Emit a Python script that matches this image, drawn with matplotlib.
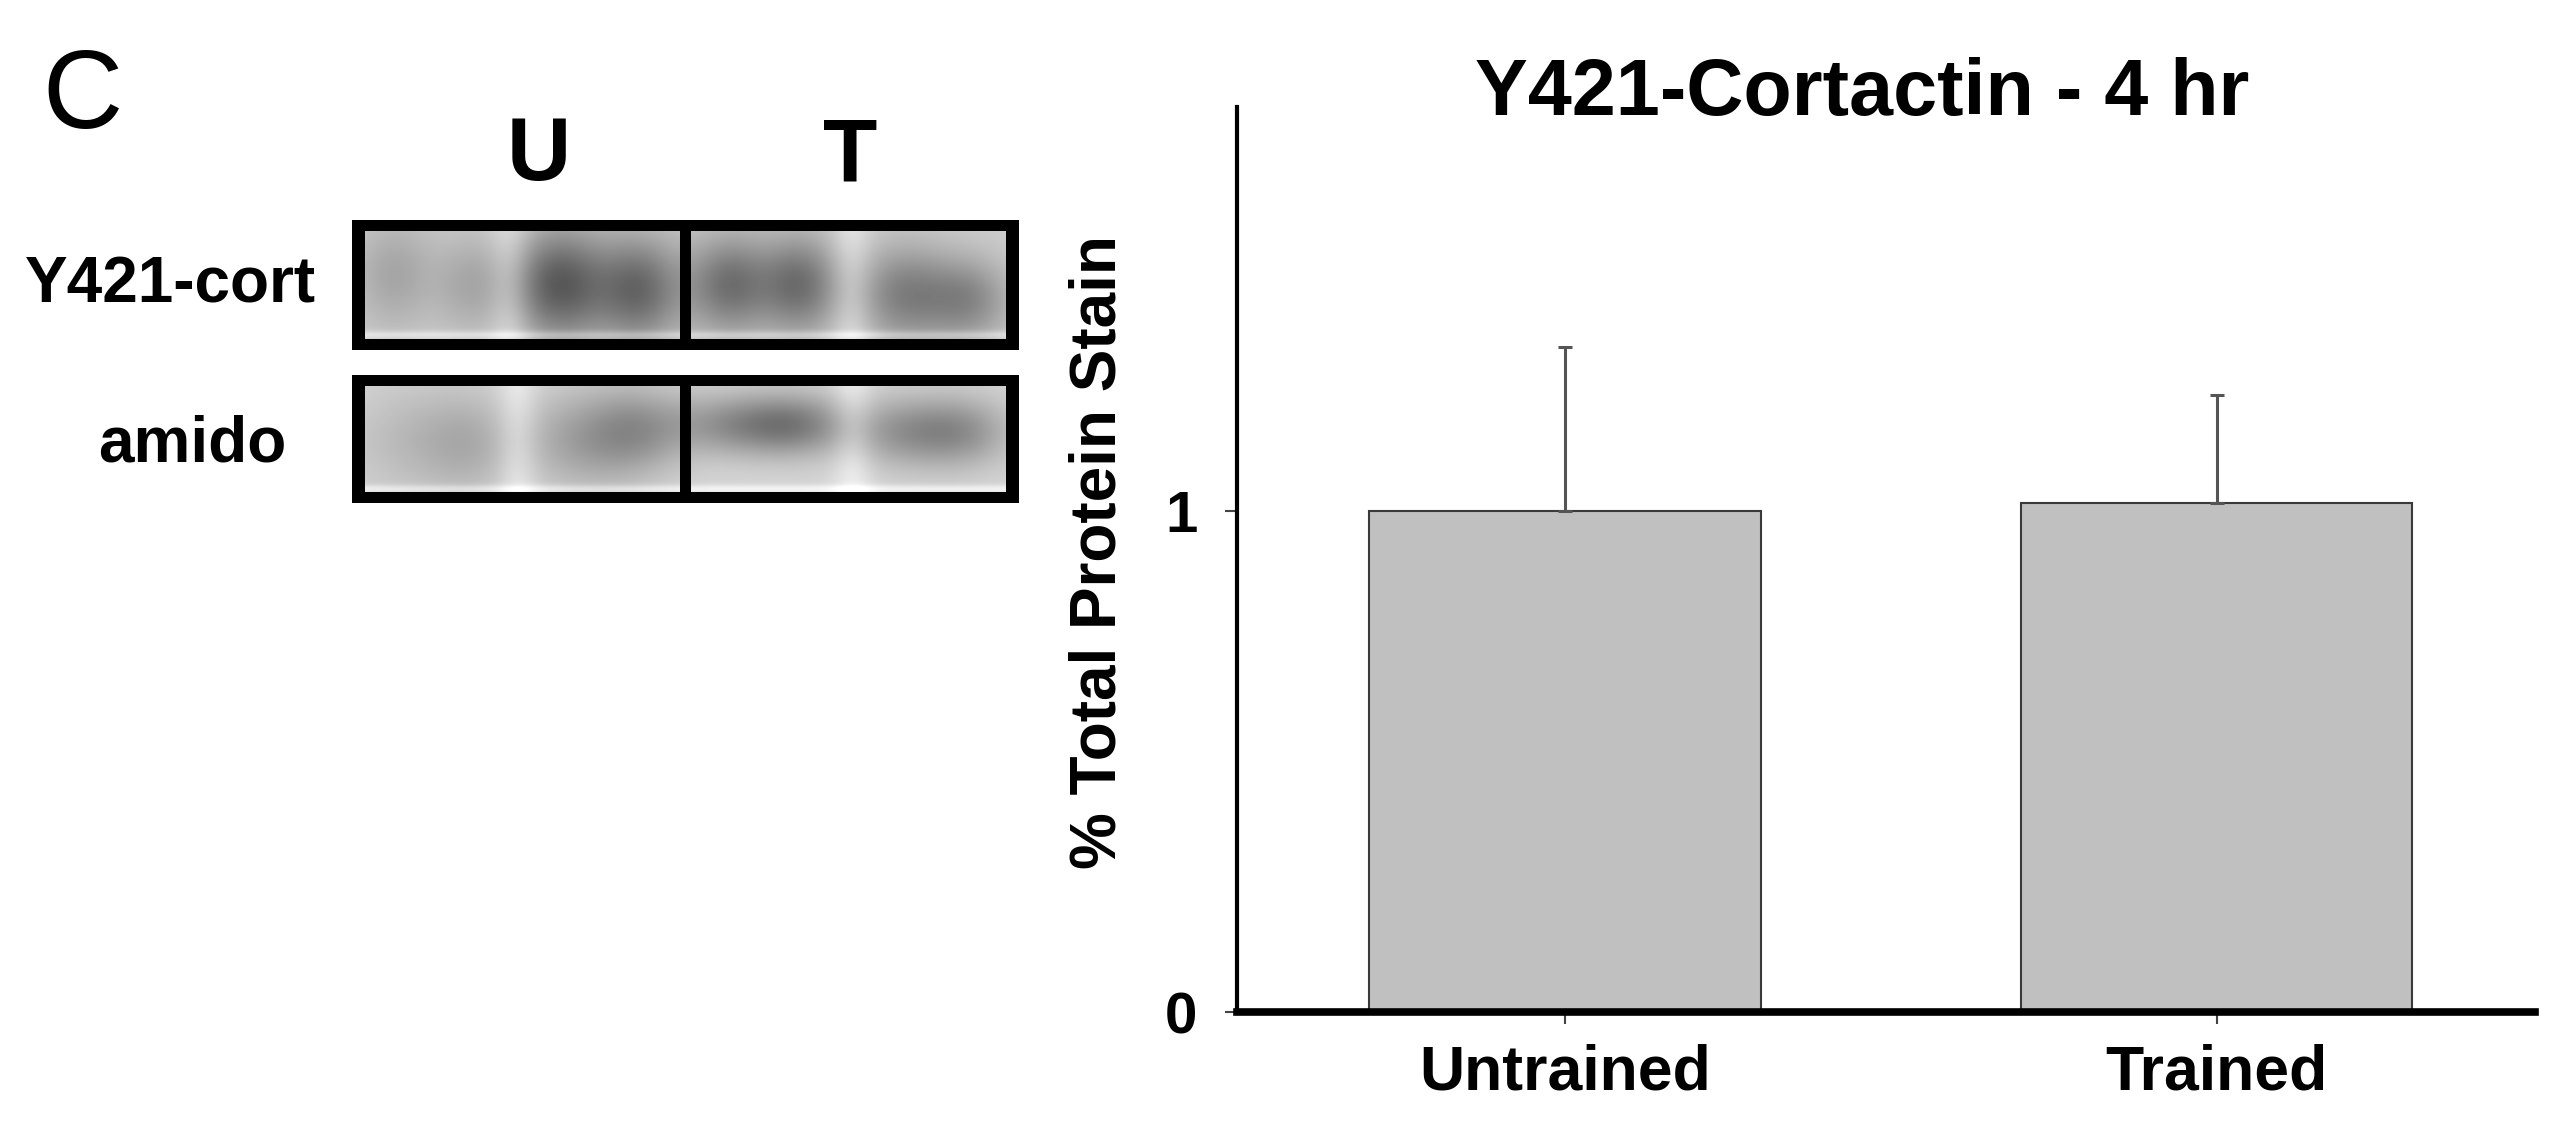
import numpy as np
import matplotlib
matplotlib.use("Agg")
import matplotlib.pyplot as plt
from matplotlib.patches import Rectangle

plt.rcParams['font.family'] = ['Liberation Sans', 'DejaVu Sans']

# ---------------- data ----------------
categories = ["Untrained", "Trained"]
values = [1.0, 1.015]
errors_upper = [0.327, 0.217]
yticks = [0, 1]
ytick_labels = ["0", "1"]
title = "Y421-Cortactin - 4 hr"
ylabel = "% Total Protein Stain"
panel_letter = "C"
blot_lane_labels = ["U", "T"]
blot_row_labels = ["Y421-cort", "amido"]

# decorative blot band descriptions (x, y, sx, sy, darkness) in figure pixels
cort_bands = [(395, 275, 30, 40, 0.16), (470, 285, 25, 35, 0.14),
              (560, 285, 35, 40, 0.45), (640, 290, 30, 38, 0.38),
              (730, 285, 30, 35, 0.36), (800, 285, 28, 35, 0.36),
              (905, 295, 35, 35, 0.30), (970, 300, 30, 30, 0.25)]
amido_bands = [(420, 440, 50, 40, 0.12), (470, 445, 30, 35, 0.10),
               (585, 440, 45, 35, 0.20), (640, 430, 35, 30, 0.20),
               (740, 425, 45, 22, 0.28), (800, 425, 35, 22, 0.25),
               (905, 432, 40, 25, 0.24), (965, 432, 35, 25, 0.22)]
cort_gaps = [510, 852]
amido_gaps = [518, 853]

W, H = 2559, 1122
fig = plt.figure(figsize=(W / 100, H / 100), dpi=100)

# ---------------- bar chart ----------------
ax_l, ax_r, ax_b, ax_t = 1237, 2535, 1012, 107
ax = fig.add_axes([ax_l / W, 1 - ax_b / H, (ax_r - ax_l) / W, (ax_b - ax_t) / H])
x = np.arange(len(categories))
ax.bar(x, values, width=0.60, color='#c0c0c0', edgecolor='#3a3a3a', linewidth=1.5, zorder=2)
ax.errorbar(x, values, yerr=[[0] * len(values), errors_upper], fmt='none',
            ecolor='#555555', elinewidth=2.2, capsize=5, capthick=2.2, zorder=3)
ax.set_xlim(-0.503, 1.488)
ax.set_ylim(0, 1.806)
ax.set_xticks(x)
ax.set_xticklabels(categories, fontsize=45, fontweight='bold')
ax.set_yticks(yticks)
ax.set_yticklabels(ytick_labels, fontsize=42, fontweight='bold')
for s in ['top', 'right']:
    ax.spines[s].set_visible(False)
ax.spines['left'].set_linewidth(3)
ax.spines['bottom'].set_linewidth(5.5)
ax.tick_params(axis='y', direction='out', length=8.5, width=1.5, color='#444444', pad=20)
ax.tick_params(axis='x', direction='out', length=8.5, width=1.5, color='#444444', pad=14)
ax.set_ylabel(ylabel, fontsize=46, fontweight='bold', va='center')
ax.yaxis.set_label_coords((1098 - ax_l) / (ax_r - ax_l), (ax_b - 552) / (ax_b - ax_t))
ax.text((1862 - ax_l) / (ax_r - ax_l), (ax_b - 115) / (ax_b - ax_t), title,
        transform=ax.transAxes, ha='center', va='baseline', fontsize=57, fontweight='bold')

# ---------------- blot panel (decorative, pixel coordinates) ----------------
ov = fig.add_axes([0, 0, 1, 1], zorder=-1)
ov.set_xlim(0, W)
ov.set_ylim(H, 0)
ov.axis('off')


def blot(x0, x1, y0, y1, bands, gaps, bg):
    xs = np.arange(x0, x1) + 0.5
    ys = np.arange(y0, y1) + 0.5
    X, Y = np.meshgrid(xs, ys)
    img = np.full(X.shape, bg)
    for (cx, cy, sx, sy, a) in bands:
        img -= a * np.exp(-((X - cx) ** 2) / (2 * sx ** 2) - ((Y - cy) ** 2) / (2 * sy ** 2))
    for g in gaps:
        img += 0.10 * np.exp(-((X - g) ** 2) / (2 * 14 ** 2))
    # light rim at the lower inner edge
    img += 0.12 * np.exp(-((Y - (y1 - 4)) ** 2) / (2 * 3 ** 2))
    img = np.clip(img, 0, 1)
    ov.imshow(img, cmap='gray', vmin=0, vmax=1, extent=[x0, x1, y1, y0],
              interpolation='bilinear', aspect='auto', zorder=1)


def frame(x0, x1, y0, y1, xdiv, t=11):
    kw = dict(facecolor='black', edgecolor='none', zorder=2)
    ov.add_patch(Rectangle((x0, y0), x1 - x0, t, **kw))
    ov.add_patch(Rectangle((x0, y1 - t), x1 - x0, t, **kw))
    ov.add_patch(Rectangle((x0, y0), t + 2, y1 - y0, **kw))
    ov.add_patch(Rectangle((x1 - t - 2, y0), t + 2, y1 - y0, **kw))
    ov.add_patch(Rectangle((xdiv - 5, y0), 11, y1 - y0, **kw))


blot(365, 1007, 230, 339, cort_bands, cort_gaps, 0.81)
frame(352, 1019, 220, 350, 685)
blot(365, 1007, 386, 493, amido_bands, amido_gaps, 0.84)
frame(352, 1019, 375, 503, 685)

ov.text(82, 128, panel_letter, fontsize=80, ha='center', va='baseline', color='black')
ov.text(539, 180, blot_lane_labels[0], fontsize=64, fontweight='bold', ha='center', va='baseline')
ov.text(850, 180, blot_lane_labels[1], fontsize=64, fontweight='bold', ha='center', va='baseline')
ov.text(170, 285, blot_row_labels[0], fontsize=46, fontweight='bold', ha='center', va='center')
ov.text(192, 444, blot_row_labels[1], fontsize=46, fontweight='bold', ha='center', va='center')

fig.savefig("out.png", dpi=100)
